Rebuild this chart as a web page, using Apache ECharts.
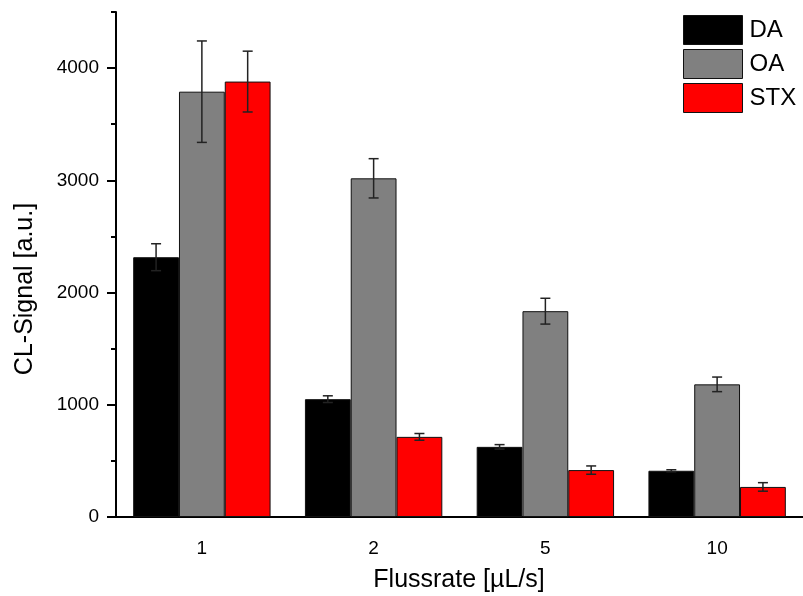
<!DOCTYPE html>
<html>
<head>
<meta charset="utf-8">
<script src="https://cdn.jsdelivr.net/npm/echarts@6/dist/echarts.min.js"></script>
<style>
  html, body { margin: 0; padding: 0; background: #fff; }
  #chart { width: 803px; height: 596px; }
</style>
</head>
<body>
<div id="chart"></div>
<script>
// Flussrate categories and CL signal values
const categories = ['1', '2', '5', '10']
const seriesNames = ['DA', 'OA', 'STX']
const daValues = [2315, 1050, 625, 412]
const oaValues = [3790, 3018, 1834, 1182]
const stxValues = [3880, 714, 418, 268]
const daErr = [120, 30, 20, 9]
const oaErr = [452, 175, 115, 65]
const stxErr = [271, 30, 37, 38]
const majorTicks = [0, 1000, 2000, 3000, 4000]
const minorTicks = [500, 1500, 2500, 3500, 4500]

const colors = ['#000000', '#808080', '#ff0000']
const font = 'Liberation Sans, Arial, sans-serif'

const allValues = [daValues, oaValues, stxValues]
const allErr = [daErr, oaErr, stxErr]

// error bars drawn on top of each bar, shifted by the series position in the group
function errorSeries (idx) {
  return {
    type: 'custom',
    name: seriesNames[idx] + ' err',
    z: 10,
    data: allValues[idx].map((v, i) => [i, v, allErr[idx][i]]),
    renderItem (params, api) {
      const band = api.size([1, 0])[0]
      const w = band * 0.8 / 3
      const c = api.coord([api.value(0), api.value(1)])
      const x = c[0] + (idx - 1) * w
      const yHi = api.coord([api.value(0), api.value(1) + api.value(2)])[1]
      const yLo = api.coord([api.value(0), api.value(1) - api.value(2)])[1]
      const cap = 5
      const st = { stroke: '#222', lineWidth: 1.5 }
      return {
        type: 'group',
        children: [
          { type: 'line', shape: { x1: x, y1: yHi, x2: x, y2: yLo }, style: st },
          { type: 'line', shape: { x1: x - cap, y1: yHi, x2: x + cap, y2: yHi }, style: st },
          { type: 'line', shape: { x1: x - cap, y1: yLo, x2: x + cap, y2: yLo }, style: st }
        ]
      }
    }
  }
}

const barSeries = seriesNames.map((name, idx) => ({
  type: 'bar',
  name: name,
  data: allValues[idx],
  barGap: '0%',
  barCategoryGap: '20%',
  itemStyle: { color: colors[idx], borderColor: '#111', borderWidth: 1 }
}))

const chart = echarts.init(document.getElementById('chart'))
chart.setOption({
  animation: false,
  textStyle: { fontFamily: font },
  grid: { left: 116, top: 12, width: 689, height: 505, containLabel: false },
  legend: {
    data: seriesNames,
    orient: 'vertical',
    left: 683,
    top: 15,
    padding: 0,
    itemWidth: 59,
    itemHeight: 29,
    itemGap: 4,
    icon: 'rect',
    itemStyle: { borderColor: '#111', borderWidth: 1 },
    textStyle: { fontSize: 24, color: '#000', fontFamily: font, padding: [0, 0, 0, 2] }
  },
  xAxis: [{
    type: 'category',
    data: categories,
    axisLine: { lineStyle: { color: '#000', width: 2 } },
    axisTick: { alignWithLabel: true, length: 8, lineStyle: { color: '#000', width: 2 } },
    axisLabel: { fontSize: 19, color: '#000', margin: 22, fontFamily: font }
  }, {
    type: 'category',
    data: categories,
    position: 'top',
    axisLine: { lineStyle: { color: '#000', width: 2 } },
    axisTick: { show: false },
    axisLabel: { show: false }
  }],
  yAxis: [{
    type: 'value',
    min: 0,
    max: 4500,
    splitLine: { show: false },
    axisLine: { show: true, lineStyle: { color: '#000', width: 2 } },
    axisTick: { show: true, length: 9, customValues: majorTicks, lineStyle: { color: '#000', width: 2 } },
    axisLabel: { fontSize: 19, color: '#000', margin: 17, customValues: majorTicks, fontFamily: font, formatter: v => String(v) }
  }, {
    type: 'value',
    min: 0,
    max: 4500,
    position: 'left',
    splitLine: { show: false },
    axisLine: { show: false },
    axisTick: { show: true, length: 5, customValues: minorTicks, lineStyle: { color: '#000', width: 2 } },
    axisLabel: { show: false }
  }],
  graphic: [{
    type: 'text',
    x: 25,
    y: 289,
    rotation: Math.PI / 2,
    style: { text: 'CL-Signal [a.u.]', font: '25px ' + font, fill: '#000', textAlign: 'center', textVerticalAlign: 'middle' }
  }, {
    type: 'text',
    x: 459,
    y: 580,
    style: { text: 'Flussrate [µL/s]', font: '25px ' + font, fill: '#000', textAlign: 'center', textVerticalAlign: 'middle' }
  }],
  series: [...barSeries, errorSeries(0), errorSeries(1), errorSeries(2)]
})
</script>
</body>
</html>
